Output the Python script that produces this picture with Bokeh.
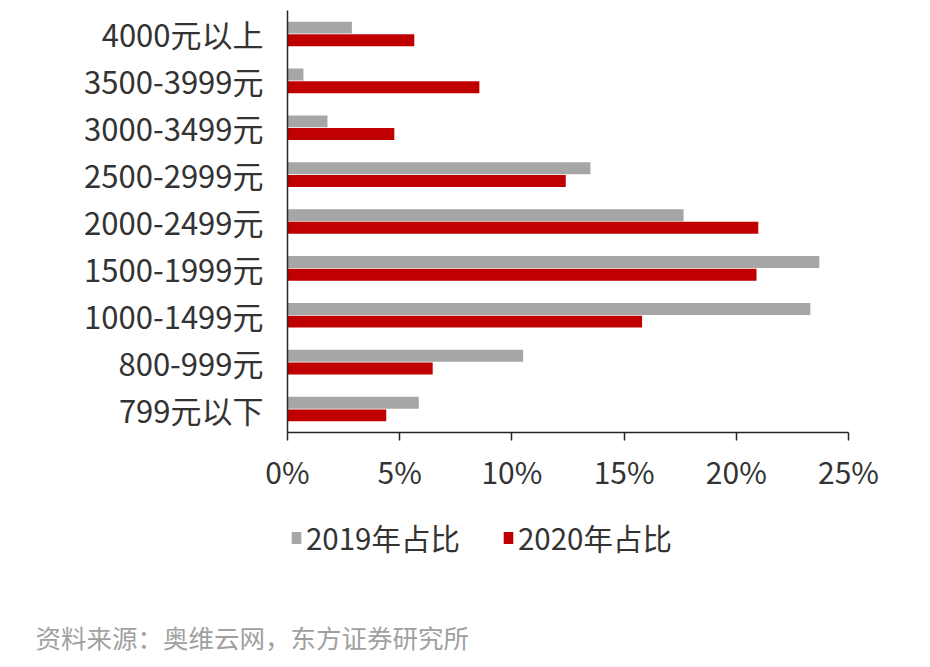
from bokeh.plotting import figure
from bokeh.models import (FactorRange, Range1d, FixedTicker, PrintfTickFormatter,
                          Legend, LegendItem, Title, ColumnDataSource)
from bokeh.layouts import column
from bokeh.transform import dodge
from bokeh.embed import file_html
from bokeh.resources import INLINE

# categories listed bottom to top
categories = ["799元以下", "800-999元", "1000-1499元", "1500-1999元", "2000-2499元",
              "2500-2999元", "3000-3499元", "3500-3999元", "4000元以上"]
share_2019 = [5.85, 10.5, 23.3, 23.7, 17.65, 13.5, 1.78, 0.71, 2.87]
share_2020 = [4.4, 6.47, 15.8, 20.9, 20.98, 12.4, 4.76, 8.55, 5.65]
series_names = ["2019年占比", "2020年占比"]
x_ticks = [0, 5, 10, 15, 20, 25]
source_note = "资料来源：奥维云网，东方证券研究所"

FONT = "Noto Sans CJK SC"
GRAY = "#A6A6A6"
RED = "#C00000"
AXIS = "#262626"
TEXT = "#333333"

src = ColumnDataSource(dict(cat=categories, y2019=share_2019, y2020=share_2020))

p = figure(width=930, height=500, y_range=FactorRange(*categories), x_range=Range1d(0, 25),
           output_backend="svg", toolbar_location=None,
           min_border_left=287, min_border_right=82, min_border_top=10, min_border_bottom=68)

p.hbar(y=dodge("cat", 0.135, range=p.y_range), right="y2019", height=0.255,
       source=src, color=GRAY, line_color=None)
p.hbar(y=dodge("cat", -0.135, range=p.y_range), right="y2020", height=0.255,
       source=src, color=RED, line_color=None)

p.outline_line_color = None
p.xgrid.grid_line_color = None
p.ygrid.grid_line_color = None
p.background_fill_color = "white"
p.border_fill_color = "white"

p.xaxis.ticker = FixedTicker(ticks=x_ticks)
p.xaxis.formatter = PrintfTickFormatter(format="%d%%")
p.xaxis.axis_line_color = AXIS
p.xaxis.axis_line_width = 1.5
p.xaxis.major_tick_line_color = AXIS
p.xaxis.major_tick_line_width = 1.5
p.xaxis.major_tick_out = 8
p.xaxis.major_tick_in = 0
p.xaxis.minor_tick_line_color = None
p.xaxis.major_label_text_font = FONT
p.xaxis.major_label_text_font_size = "30px"
p.xaxis.major_label_text_color = TEXT
p.xaxis.major_label_standoff = 8

p.yaxis.axis_line_color = AXIS
p.yaxis.axis_line_width = 1.5
p.yaxis.major_tick_line_color = None
p.yaxis.major_tick_out = 0
p.yaxis.major_tick_in = 0
p.yaxis.major_label_text_font = FONT
p.yaxis.major_label_text_font_size = "31px"
p.yaxis.major_label_text_color = TEXT
p.yaxis.major_label_standoff = 24

# lower panel: legend and source note (frame aligned with the chart above)
p2 = figure(width=930, height=167, y_range=FactorRange(*categories), x_range=Range1d(0, 25),
            output_backend="svg", toolbar_location=None,
            min_border_left=287, min_border_right=82, min_border_top=0, min_border_bottom=58)
p2.axis.visible = False
p2.grid.visible = False
p2.outline_line_color = None
p2.background_fill_color = "white"
p2.border_fill_color = "white"

k1 = p2.hbar(y="cat", right="y2019", height=0.25, source=src, color=GRAY, line_color=None,
             visible=False)
k2 = p2.hbar(y="cat", right="y2020", height=0.25, source=src, color=RED, line_color=None,
             visible=False)

legend = Legend(items=[LegendItem(label=series_names[0], renderers=[k1]),
                       LegendItem(label=series_names[1], renderers=[k2])],
                location=(3, 51), orientation="horizontal",
                glyph_width=12, glyph_height=15, label_standoff=4, spacing=42,
                padding=0, margin=0, border_line_color=None, background_fill_alpha=0,
                inactive_fill_alpha=0,
                label_text_font=FONT, label_text_font_size="29.5px", label_text_color=TEXT)
p2.add_layout(legend, "center")

note = Title(text=source_note, align="left", offset=-252, standoff=13,
             text_font=FONT, text_font_size="25.5px", text_color="#A0A0A0",
             text_font_style="normal")
p2.add_layout(note, "below")

layout = column(p, p2, spacing=0)
open("out.html", "w").write(file_html(layout, INLINE))
